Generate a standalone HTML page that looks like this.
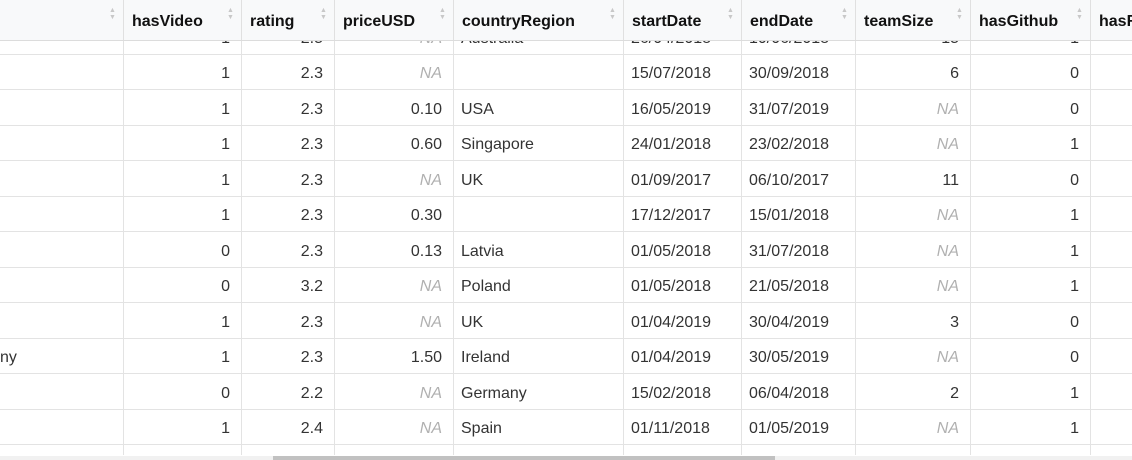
<!DOCTYPE html>
<html><head><meta charset="utf-8"><style>
body{margin:0;width:1132px;height:460px;overflow:hidden;background:#fff;font-family:"Liberation Sans",Arial,sans-serif;color:#333;position:relative}
.c{position:absolute;font-size:16px;white-space:nowrap;line-height:35px}
.r{text-align:right}
.na{color:#b0b0b0;font-style:italic}
.vl{position:absolute;top:0;width:1px;height:455px;background:#e3e3e3}
.hl{position:absolute;left:0;width:1132px;height:1px;background:#e3e3e3}
#hdr{position:absolute;left:0;top:0;width:1132px;height:40px;background:#f8f9fa;border-bottom:1px solid #dcdcdc;z-index:2}
.h{position:absolute;top:0;line-height:43px;font-weight:bold;font-size:16px;color:#111}
.s{position:absolute;top:7px;width:8px;font-size:7px;line-height:7px;color:#c8c8c8}
</style></head><body>
<div id="body"></div>
<div id="hdr"></div>
<div style="position:absolute;left:0;top:456px;width:1132px;height:4px;background:#f1f1f1"></div>
<div style="position:absolute;left:273px;top:456px;width:502px;height:4px;background:#c1c1c1"></div>
<script>
const colX=[0,123,241,334,453,623,741,855,970,1090];
const headers=["","hasVideo","rating","priceUSD","countryRegion","startDate","endDate","teamSize","hasGithub","hasR"];
const align=["l","r","r","r","l","l","l","r","r","r"];
const rows=[
["","1","2.5","NA","Australia","26/04/2018","10/06/2018","15","1",""],
["","1","2.3","NA","","15/07/2018","30/09/2018","6","0",""],
["","1","2.3","0.10","USA","16/05/2019","31/07/2019","NA","0",""],
["","1","2.3","0.60","Singapore","24/01/2018","23/02/2018","NA","1",""],
["","1","2.3","NA","UK","01/09/2017","06/10/2017","11","0",""],
["","1","2.3","0.30","","17/12/2017","15/01/2018","NA","1",""],
["","0","2.3","0.13","Latvia","01/05/2018","31/07/2018","NA","1",""],
["","0","3.2","NA","Poland","01/05/2018","21/05/2018","NA","1",""],
["","1","2.3","NA","UK","01/04/2019","30/04/2019","3","0",""],
["ny","1","2.3","1.50","Ireland","01/04/2019","30/05/2019","NA","0",""],
["","0","2.2","NA","Germany","15/02/2018","06/04/2018","2","1",""],
["","1","2.4","NA","Spain","01/11/2018","01/05/2019","NA","1",""]
];
const body=document.getElementById('body'),hdr=document.getElementById('hdr');
const rowTop0=18,rowH=35.5;
for(let i=1;i<colX.length;i++){
  const v=document.createElement('div');v.className='vl';v.style.left=colX[i]+'px';
  
  
  body.appendChild(v);
  const hv=document.createElement('div');hv.className='vl';hv.style.left=colX[i]+'px';hv.style.height='40px';hv.style.background='#e0e0e0';
  
  
  hdr.appendChild(hv);
}
rows.forEach((row,ri)=>{
  const top=rowTop0+ri*rowH;
  const l=document.createElement('div');l.className='hl';l.style.top=Math.round(top+rowH)+'px';
  
  
  body.appendChild(l);
  row.forEach((val,ci)=>{
    if(val==='')return;
    const d=document.createElement('div');
    d.className='c'+(align[ci]==='r'?' r':'')+(val==='NA'?' na':'');
    d.style.top=(top+2.5)+'px';
    if(align[ci]==='r'){const right=(colX[ci+1]||1132)-11;d.style.left=(colX[ci])+'px';d.style.width=(right-colX[ci])+'px';}
    else d.style.left=(ci===0?0:colX[ci]+8)+'px';
    d.textContent=val;
    
    
    body.appendChild(d);
  });
});
headers.forEach((h,ci)=>{
  const x=colX[ci],nx=colX[ci+1]||1200;
  if(h){
    const d=document.createElement('div');d.className='h';d.style.left=(x+9)+'px';d.textContent=h;
    
    
    hdr.appendChild(d);
  }
  if(nx<=1132){
    const s=document.createElement('div');s.className='s';s.style.left=(nx-14)+'px';s.innerHTML='▲<br>▼';
    
    
    hdr.appendChild(s);
  }
});
</script>
</body></html>
